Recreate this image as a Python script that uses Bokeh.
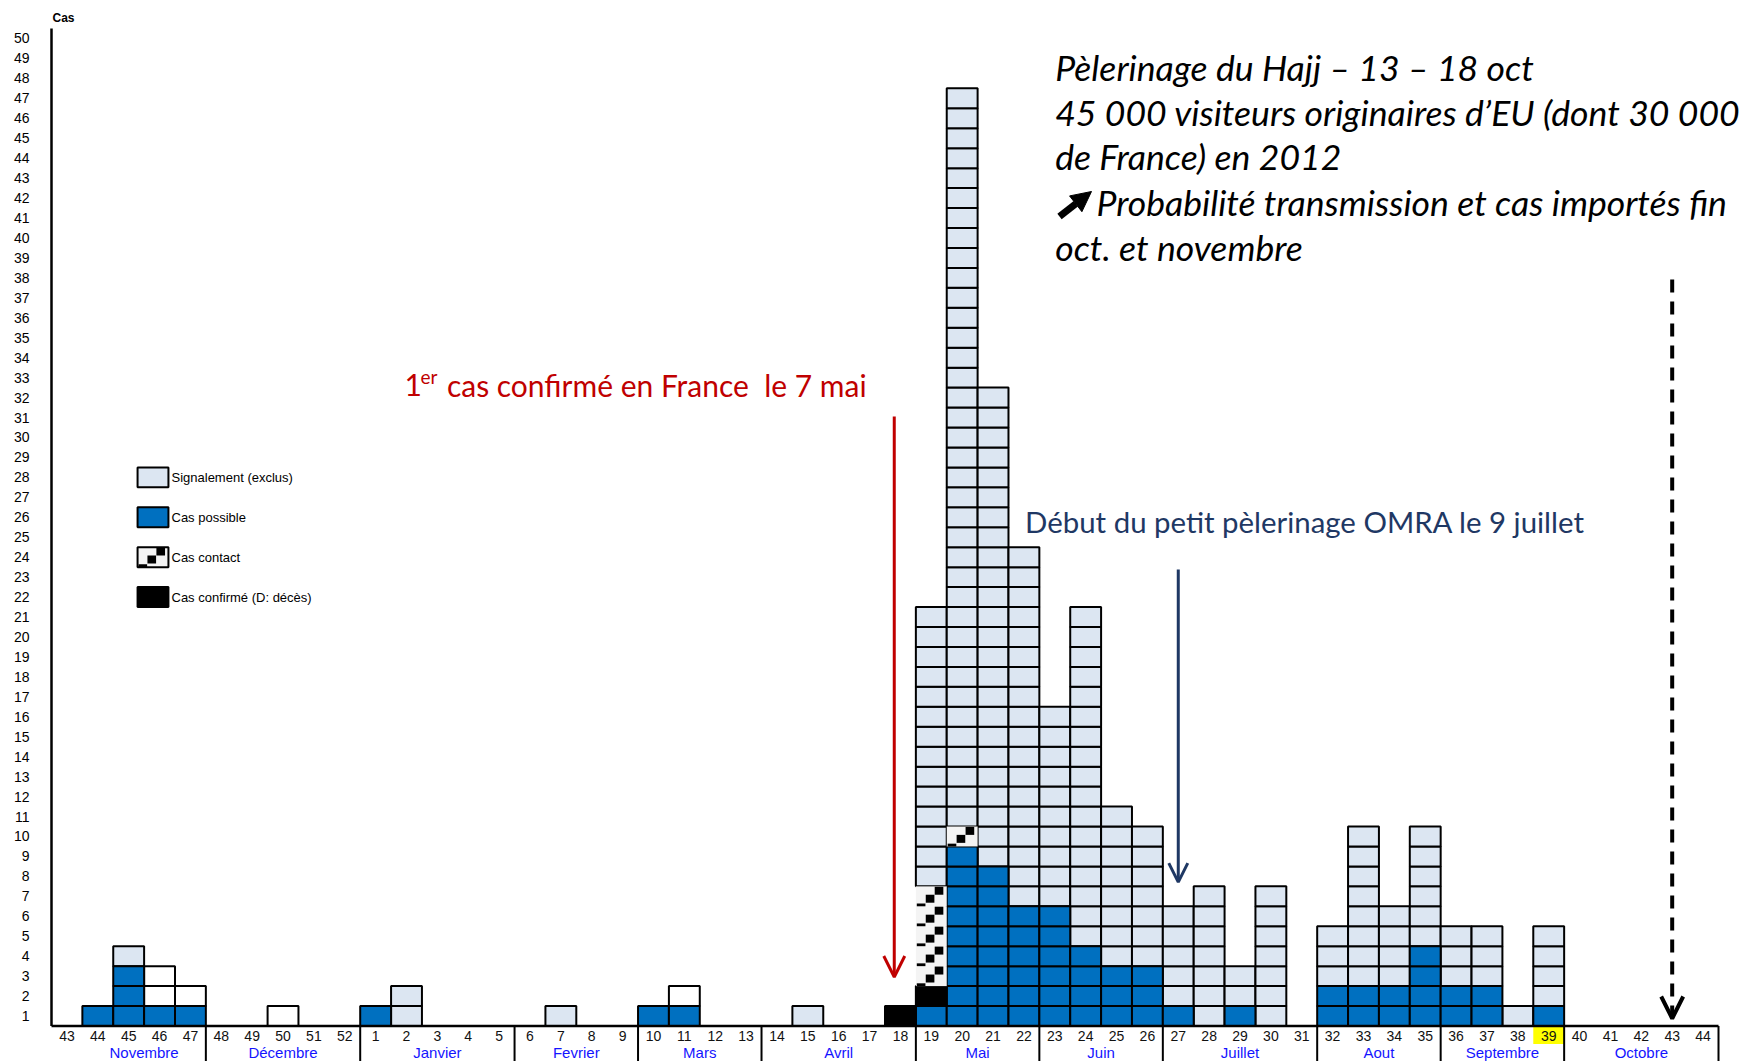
import numpy as np
from bokeh.plotting import figure
from bokeh.models import FixedTicker, Arrow, OpenHead, NormalHead, Range1d
from bokeh.core.properties import value
from bokeh.embed import file_html
from bokeh.resources import INLINE

# ---------------- data ----------------
weeks = ["43", "44", "45", "46", "47", "48", "49", "50", "51", "52",
         "1", "2", "3", "4", "5", "6", "7", "8", "9", "10", "11", "12", "13", "14", "15", "16", "17", "18",
         "19", "20", "21", "22", "23", "24", "25", "26", "27", "28", "29", "30", "31", "32", "33", "34",
         "35", "36", "37", "38", "39", "40", "41", "42", "43", "44"]

#              43 | Nov 44-47  | Dec 48-52     | Jan 1-5       | Feb 6-9    | Mar 10-13  | Apr 14-18     | Mai 19-22      | Juin 23-26     | Juil 27-31    | Aout 32-35  | Sep 36-39  | Oct 40-44
possible    = [0,  1, 3, 1, 1,  0, 0, 0, 0, 0,  1, 0, 0, 0, 0,  0, 0, 0, 0,  1, 1, 0, 0,  0, 0, 0, 0, 0,  1, 9, 8, 6,     6, 4, 3, 3,     1, 0, 1, 0, 0,  2, 2, 2, 4,  2, 2, 0, 1,  0, 0, 0, 0, 0]
confirmed   = [0,  0, 0, 0, 0,  0, 0, 0, 0, 0,  0, 0, 0, 0, 0,  0, 0, 0, 0,  0, 0, 0, 0,  0, 0, 0, 0, 1,  1, 0, 0, 0,     0, 0, 0, 0,     0, 0, 0, 0, 0,  0, 0, 0, 0,  0, 0, 0, 0,  0, 0, 0, 0, 0]
contact     = [0,  0, 0, 0, 0,  0, 0, 0, 0, 0,  0, 0, 0, 0, 0,  0, 0, 0, 0,  0, 0, 0, 0,  0, 0, 0, 0, 0,  5, 1, 0, 0,     0, 0, 0, 0,     0, 0, 0, 0, 0,  0, 0, 0, 0,  0, 0, 0, 0,  0, 0, 0, 0, 0]
other       = [0,  0, 0, 2, 1,  0, 0, 1, 0, 0,  0, 0, 0, 0, 0,  0, 0, 0, 0,  0, 1, 0, 0,  0, 0, 0, 0, 0,  0, 0, 0, 0,     0, 0, 0, 0,     0, 0, 0, 0, 0,  0, 0, 0, 0,  0, 0, 0, 0,  0, 0, 0, 0, 0]
signalement = [0,  0, 1, 0, 0,  0, 0, 0, 0, 0,  0, 2, 0, 0, 0,  0, 1, 0, 0,  0, 0, 0, 0,  0, 1, 0, 0, 0, 14, 37, 24, 18, 10, 17, 8, 7,     5, 7, 2, 7, 0,  3, 8, 4, 6,  3, 3, 1, 4,  0, 0, 0, 0, 0]

months = ["Novembre", "Décembre", "Janvier", "Fevrier", "Mars", "Avril", "Mai", "Juin",
          "Juillet", "Aout", "Septembre", "Octobre"]
month_nweeks = [4, 5, 5, 4, 4, 5, 4, 4, 5, 4, 4, 5]   # weeks per month, after leading week 43
highlight_week = "39"

legend_labels = ["Signalement (exclus)", "Cas possible", "Cas contact", "Cas confirmé (D: décès)"]

# ---------------- layout constants (page pixels) ----------------
W, H = 1750, 1061
FL = 49            # frame left
AX_X = 51.0        # x of y-axis line
AX_Y = 1025.5      # y of x-axis line
COLW = (1718.0 - AX_X) / len(weeks)
ROWH = 19.95

def dx(cx):
    return -0.5 + (cx - AX_X) / COLW

def dy(cy):
    return 0.5 + (AX_Y - cy) / ROWH

C_POS = "#0070C0"
C_SIG = "#DCE6F2"
C_CONT = "#F4F4F4"
C_CONF = "#000000"
C_OTHER = "#FFFFFF"

p = figure(width=W, height=H, output_backend="svg", toolbar_location=None,
           x_range=Range1d(dx(FL), dx(W)), y_range=Range1d(dy(H), dy(0)),
           x_axis_location=None,
           min_border_left=FL, min_border_right=0, min_border_top=0, min_border_bottom=0)
p.grid.visible = False
p.outline_line_color = None
p.background_fill_color = "white"
p.border_fill_color = "white"

ya = p.yaxis[0]
ya.ticker = FixedTicker(ticks=list(range(1, 51)))
ya.axis_line_color = None
ya.major_tick_line_color = None
ya.minor_tick_line_color = None
ya.major_tick_out = 0
ya.major_tick_in = 0
ya.major_label_standoff = 20
ya.major_label_text_font = "Liberation Sans"
ya.major_label_text_font_size = "14px"
ya.major_label_text_color = "black"

# ---------------- cells ----------------
n = len(weeks)
base = np.zeros(n)
stack = [("possible", possible, C_POS, "black"),
         ("confirmed", confirmed, C_CONF, "black"),
         ("contact", contact, C_CONT, None),
         ("other", other, C_OTHER, "black"),
         ("signalement", signalement, C_SIG, "black")]
cells = {}
for name, vals, col, lc in stack:
    xs, ys = [], []
    for i, v in enumerate(vals):
        for k in range(v):
            xs.append(i)
            ys.append(base[i] + k + 1)
        base[i] += v
    cells[name] = (xs, ys, col, lc)

for name in ["signalement", "other", "possible", "confirmed"]:
    xs, ys, col, lc = cells[name]
    p.rect(x=xs, y=ys, width=1, height=1, fill_color=col, line_color=lc, line_width=2)

def contact_pattern(xs, ys):
    sx, sy, sh = [], [], []
    for x, y in zip(xs, ys):
        sx += [x + 0.25, x - 0.04, x - 0.33]
        sy += [y + 0.28, y - 0.12, y - 0.43]
        sh += [0.4, 0.4, 0.14]
    return sx, sy, sh

cx_, cy_, ccol, _ = cells["contact"]
p.rect(x=cx_, y=cy_, width=1, height=1, fill_color=ccol, line_color=None)
px_, py_, ph_ = contact_pattern(cx_, cy_)
p.rect(x=px_, y=py_, width=0.28, height=ph_, fill_color="black", line_color=None)

# ---------------- axes (drawn) ----------------
hw = weeks.index(highlight_week)
p.quad(left=[hw - 0.5], right=[hw + 0.5], top=[0.5], bottom=[0.5 - 18 / ROWH],
       fill_color="#FFFF00", line_color=None)

idx = list(range(n))
p.text(x=idx, y=[0.5 - 9.5 / ROWH] * n, text=weeks, text_align="center", text_baseline="middle",
       text_font=value("Liberation Sans"), text_font_size="14px", text_color="#111111")

starts = []
s = 1
for m in month_nweeks:
    starts.append(s)
    s += m
centers = [st + (m - 1) / 2 for st, m in zip(starts, month_nweeks)]
p.text(x=centers, y=[0.5 - 26.5 / ROWH] * len(months), text=months, text_align="center",
       text_baseline="middle", text_font=value("Liberation Sans"), text_font_size="15px",
       text_color="#1414FF")

seps = [st - 0.5 for st in starts[1:]] + [starts[-1] + month_nweeks[-1] - 0.5]
p.segment(x0=seps, x1=seps, y0=[0.5] * len(seps), y1=[dy(H + 10)] * len(seps),
          line_color="black", line_width=2)

p.segment(x0=[-0.5], x1=[n - 0.5], y0=[0.5], y1=[0.5], line_color="black", line_width=2.5)
p.segment(x0=[-0.5], x1=[-0.5], y0=[0.5], y1=[50.5], line_color="black", line_width=2.5)

p.text(x=[dx(52)], y=[dy(17)], text=["Cas"], text_align="left", text_baseline="middle",
       text_font=value("Liberation Sans"), text_font_size="12px", text_font_style="bold",
       text_color="black")

# ---------------- legend (manual) ----------------
leg_rows = [28, 26, 24, 22]
lx = dx(152.5)
p.rect(x=[lx], y=[leg_rows[0]], width=1, height=1, fill_color=C_SIG, line_color="black", line_width=2)
p.rect(x=[lx], y=[leg_rows[1]], width=1, height=1, fill_color=C_POS, line_color="black", line_width=2)
p.rect(x=[lx], y=[leg_rows[2]], width=1, height=1, fill_color=C_CONT, line_color="black", line_width=2)
lpx, lpy, lph = contact_pattern([lx], [leg_rows[2]])
p.rect(x=lpx, y=lpy, width=0.28, height=lph, fill_color="black", line_color=None)
p.rect(x=[lx], y=[leg_rows[3]], width=1, height=1, fill_color=C_CONF, line_color="black", line_width=2)
p.text(x=[dx(171)] * 4, y=leg_rows, text=legend_labels, text_align="left", text_baseline="middle",
       text_font=value("Liberation Sans"), text_font_size="13px", text_color="black")

# ---------------- annotations ----------------
RED = "#C00000"
NAVY = "#1F3864"
wk18 = weeks.index("18")
p.add_layout(Arrow(x_start=wk18 - 0.2, y_start=dy(416), x_end=wk18 - 0.2, y_end=dy(976.5),
                   line_color=RED, line_width=3,
                   end=OpenHead(size=21, line_color=RED, line_width=3)))
p.text(x=[dx(404)], y=[dy(384.6)], text=["1"], text_align="left", text_baseline="alphabetic",
       text_font=value("Lato"), text_font_size="30px", text_color=RED)
p.text(x=[dx(420)], y=[dy(375.6)], text=["er"], text_align="left", text_baseline="alphabetic",
       text_font=value("Lato"), text_font_size="19px", text_color=RED)
p.text(x=[dx(446.4)], y=[dy(384.6)], text=["cas confirmé en France\u00a0 le 7 mai"], text_align="left",
       text_baseline="alphabetic", text_font=value("Lato"), text_font_size="30px", text_color=RED)

wk27 = weeks.index("27")
p.add_layout(Arrow(x_start=wk27, y_start=dy(569), x_end=wk27, y_end=dy(881.7),
                   line_color=NAVY, line_width=3,
                   end=OpenHead(size=19, line_color=NAVY, line_width=3)))
p.text(x=[dx(1024.6)], y=[dy(520.6)], text=["Début du petit pèlerinage OMRA le 9 juillet"],
       text_align="left", text_baseline="alphabetic", text_font=value("Lato"),
       text_font_size="29.4px", text_color=NAVY)

wk43 = max(i for i, w in enumerate(weeks) if w == "43")
p.add_layout(Arrow(x_start=wk43, y_start=dy(279), x_end=wk43, y_end=dy(1018),
                   line_color="black", line_width=4, line_dash="13 9",
                   end=OpenHead(size=22, line_color="black", line_width=4)))

hajj_lines = ["Pèlerinage du Hajj – 13 – 18 oct",
              "45 000 visiteurs originaires d’EU (dont 30 000",
              "de France) en 2012",
              "Probabilité transmission et cas importés fin",
              "oct. et novembre"]
base_y = [67.0, 111.6, 156.3, 202.0, 246.7]
tx = [1054.7, 1054.7, 1054.7, 1096.0, 1054.7]
p.text(x=[dx(v) for v in tx], y=[dy(v) for v in base_y], text=hajj_lines, text_align="left",
       text_baseline="alphabetic", text_font=value("Lato"), text_font_size="35.6px",
       text_font_style="italic", text_color="black")
p.add_layout(Arrow(x_start=dx(1059), y_start=dy(216), x_end=dx(1091), y_end=dy(191),
                   line_color="black", line_width=7,
                   end=NormalHead(size=20, fill_color="black", line_color="black", line_width=1)))

open("out.html", "w").write(file_html(p, INLINE))
